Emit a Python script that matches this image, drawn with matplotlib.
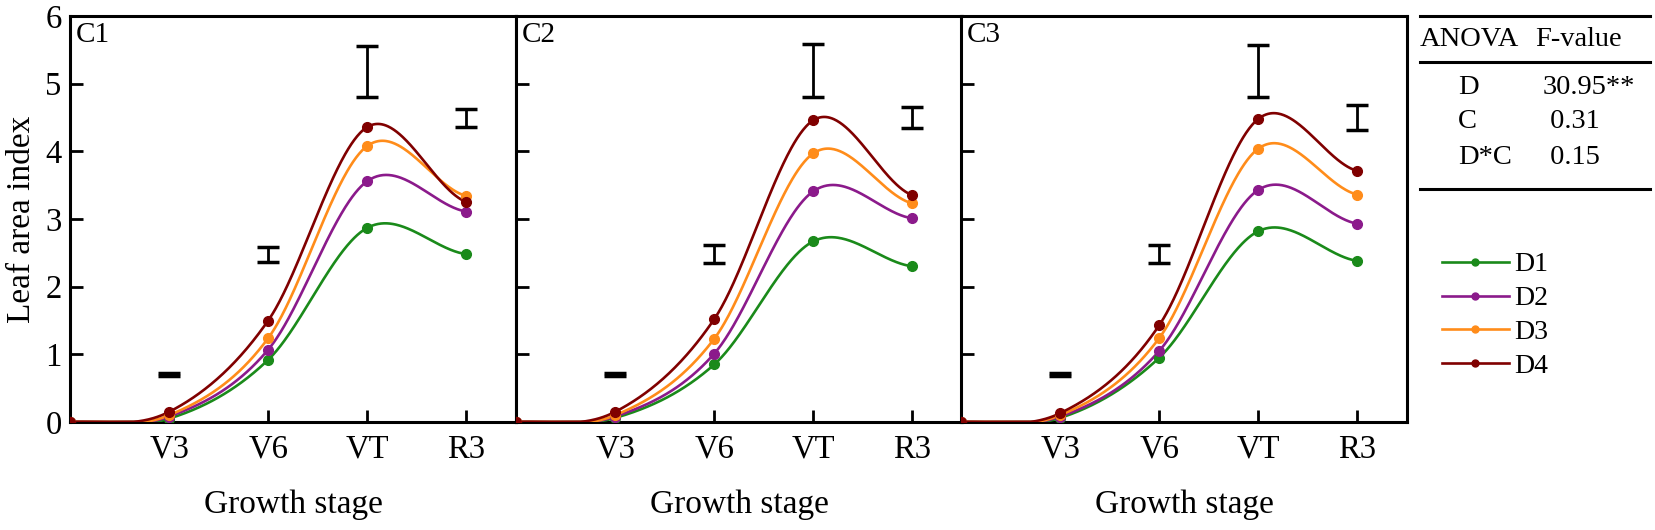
import numpy as np
import matplotlib
matplotlib.use("Agg")
import matplotlib.pyplot as plt
from matplotlib.lines import Line2D

plt.rcParams['font.family'] = ['Liberation Serif', 'DejaVu Serif']

# growth stages (0 = emergence, drawn at the left spine)
stages = ['V3', 'V6', 'VT', 'R3']
stage_x = [0, 1, 2, 3, 4]

# leaf area index per panel, per density (first value = emergence)
c1_d1 = [0, 0.05, 0.92, 2.87, 2.48]
c1_d2 = [0, 0.08, 1.07, 3.56, 3.11]
c1_d3 = [0, 0.10, 1.24, 4.08, 3.34]
c1_d4 = [0, 0.15, 1.50, 4.36, 3.25]

c2_d1 = [0, 0.06, 0.85, 2.67, 2.30]
c2_d2 = [0, 0.08, 1.01, 3.41, 3.01]
c2_d3 = [0, 0.10, 1.23, 3.97, 3.23]
c2_d4 = [0, 0.15, 1.52, 4.46, 3.35]

c3_d1 = [0, 0.06, 0.95, 2.82, 2.38]
c3_d2 = [0, 0.08, 1.05, 3.43, 2.93]
c3_d3 = [0, 0.10, 1.24, 4.04, 3.36]
c3_d4 = [0, 0.13, 1.43, 4.48, 3.71]

# LSD bars: (low, high) at V3, V6, VT, R3
c1_lsd = [(0.68, 0.72), (2.36, 2.58), (4.81, 5.56), (4.36, 4.63)]
c2_lsd = [(0.68, 0.72), (2.35, 2.62), (4.81, 5.59), (4.35, 4.66)]
c3_lsd = [(0.68, 0.72), (2.35, 2.62), (4.81, 5.57), (4.32, 4.68)]

panel_names = ['C1', 'C2', 'C3']
density_names = ['D1', 'D2', 'D3', 'D4']
colors = ['#1a8a1a', '#8b1a8b', '#ff8c1a', '#800000']

anova_terms = ['D', 'C', 'D*C']
anova_f = ['30.95**', ' 0.31', ' 0.15']

panels = [
    [c1_d1, c1_d2, c1_d3, c1_d4],
    [c2_d1, c2_d2, c2_d3, c2_d4],
    [c3_d1, c3_d2, c3_d3, c3_d4],
]
lsds = [c1_lsd, c2_lsd, c3_lsd]


def smooth(x, y, xs):
    """Catmull-Rom style cubic Hermite through the points (end points doubled)"""
    x = np.asarray(x, float)
    y = np.asarray(y, float)
    n = len(x)
    t = np.zeros(n)
    t[1:-1] = (y[2:] - y[:-2]) / (x[2:] - x[:-2])
    t[0] = (y[1] - y[0]) / (x[1] - x[0]) / 2
    t[-1] = (y[-1] - y[-2]) / (x[-1] - x[-2]) / 2
    idx = np.clip(np.searchsorted(x, xs) - 1, 0, n - 2)
    h = x[idx + 1] - x[idx]
    s = (xs - x[idx]) / h
    h00 = 2 * s ** 3 - 3 * s ** 2 + 1
    h10 = s ** 3 - 2 * s ** 2 + s
    h01 = -2 * s ** 3 + 3 * s ** 2
    h11 = s ** 3 - s ** 2
    out = h00 * y[idx] + h10 * h * t[idx] + h01 * y[idx + 1] + h11 * h * t[idx + 1]
    return np.maximum(out, 0)  # LAI can't go below zero


W, H = 1655, 530
fig = plt.figure(figsize=(W / 100, H / 100), dpi=100)

left_px = [70, 516, 961]
width_px = 446
top_px, bot_px = 16, 422
xs = np.linspace(0, 4, 400)

handles = []
for k in range(3):
    ax = fig.add_axes([left_px[k] / W, 1 - bot_px / H, width_px / W, (bot_px - top_px) / H])
    for j in range(4):
        vals = panels[k][j]
        ax.plot(xs, smooth(stage_x, vals, xs), color=colors[j], lw=1.9, zorder=3)
        ax.plot(stage_x, vals, 'o', color=colors[j], ms=7, zorder=4)
        if k == 0:
            handles.append(Line2D([], [], color=colors[j], lw=1.9, marker='o', ms=5))
    for i, (lo, hi) in enumerate(lsds[k]):
        mid = (lo + hi) / 2
        ax.errorbar(stage_x[i + 1], mid, yerr=(hi - lo) / 2, color='black',
                    lw=2, capsize=8, capthick=2.5, zorder=5)
    ax.set_xlim(0, 4.5)
    ax.set_ylim(0, 6)
    ax.set_xticks(stage_x[1:])
    ax.set_xticklabels(stages)
    ax.set_yticks(range(7))
    ax.tick_params(direction='in', length=9, width=2, labelsize=23.5)
    ax.tick_params(axis='x', pad=9)
    ax.tick_params(axis='y', pad=6)
    if k > 0:
        ax.set_yticklabels([])
    for s in ax.spines.values():
        s.set_linewidth(2.2)
    ax.set_xlabel('Growth stage', fontsize=24, labelpad=18)
    ax.text(0.012, 0.985, panel_names[k], transform=ax.transAxes, fontsize=21,
            ha='left', va='top')
    if k == 0:
        ax.set_ylabel('Leaf area index', fontsize=24, labelpad=6)

# ANOVA table on the right
for yl in [16, 62, 189]:
    fig.add_artist(Line2D([1420 / W, 1650 / W], [1 - yl / H, 1 - yl / H],
                          color='black', lw=2.2))
fig.text(1420 / W, 1 - 40 / H, 'ANOVA', fontsize=20.5, va='center', ha='left')
fig.text(1535 / W, 1 - 40 / H, 'F-value', fontsize=20.5, va='center', ha='left')
row_y = [88, 122, 157]
for t, f, yy in zip(anova_terms, anova_f, row_y):
    fig.text(1458 / W, 1 - yy / H, t, fontsize=20.5, va='center', ha='left')
    fig.text(1543 / W, 1 - yy / H, f, fontsize=20.5, va='center', ha='left')

fig.legend(handles, density_names, loc='upper left', bbox_to_anchor=(1442 / W, 1 - 252 / H),
           frameon=False, fontsize=20, handlelength=2.4, handletextpad=0.2,
           labelspacing=0.3, borderpad=0, borderaxespad=0)

fig.savefig('out.png', dpi=100)
